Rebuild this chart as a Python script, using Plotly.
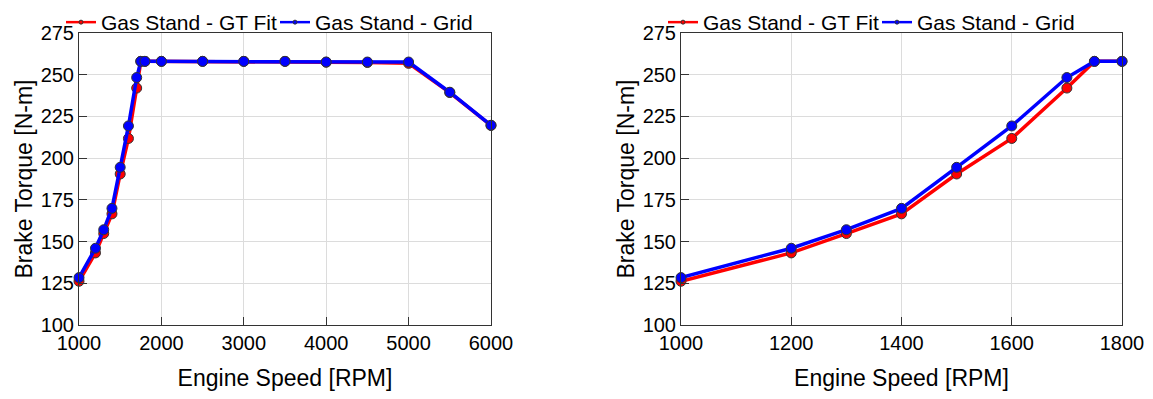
import plotly.graph_objects as go

# engine speed sweep and brake torque for the two gas stand data sets
rpm = [1000, 1200, 1300, 1400, 1500, 1600, 1700, 1750, 1800, 2000,
       2500, 3000, 3500, 4000, 4500, 5000, 5500, 6000]
torque_fit = [126.2, 143.2, 154.8, 166.6, 190.5, 211.8, 242.0, 258.0, 258.0, 258.0,
              258.0, 258.0, 258.0, 257.5, 257.3, 256.8, 239.3, 219.6]
torque_grid = [128.4, 146.0, 157.1, 169.9, 194.5, 219.3, 248.3, 258.0, 258.0, 258.0,
               258.0, 258.0, 258.0, 257.6, 257.6, 257.6, 239.5, 219.7]

y_ticks = [100, 125, 150, 175, 200, 225, 250, 275]
zoom_max = 1800

series = [
    ("Gas Stand - GT Fit", torque_fit, "#ff0000"),
    ("Gas Stand - Grid", torque_grid, "#0000ff"),
]

W, H = 1137, 383

fig = go.Figure()

# full range (left) and low speed zoom (right)
for xa, ya, lg, x_max in [("x", "y", "legend", 6000), ("x2", "y2", "legend2", zoom_max)]:
    for name, vals, color in series:
        xs = [r for r in rpm if r <= x_max]
        ys = vals[:len(xs)]
        fig.add_trace(go.Scatter(
            x=xs, y=ys, mode="lines+markers", xaxis=xa, yaxis=ya,
            line=dict(color=color, width=3.5),
            marker=dict(size=10, color=color, line=dict(color="#333333", width=1)),
            cliponaxis=False, showlegend=False,
        ))
    # small legend-only entries
    for name, vals, color in series:
        fig.add_trace(go.Scatter(
            x=[None], y=[None], mode="lines+markers", name=name, xaxis=xa, yaxis=ya,
            line=dict(color=color, width=2.5),
            marker=dict(size=4, color=color, line=dict(color="#333333", width=1)),
            legend=lg,
        ))

axis_common = dict(
    ticks="inside", ticklen=8, tickcolor="#333333",
    showgrid=True, gridcolor="#dcdcdc", gridwidth=1,
    showline=True, linecolor="#333333", linewidth=1, mirror=True,
    zeroline=False, tickfont=dict(size=20, color="black"), automargin=False,
)
x_title = dict(text="Engine Speed [RPM]", font=dict(size=23, color="black"), standoff=27)
y_title = dict(text="Brake Torque [N-m]", font=dict(size=23, color="black"), standoff=1)

legend_common = dict(
    orientation="h", yanchor="top", y=1.0 + 6 / H, xanchor="left",
    font=dict(size=21, color="black", family="Liberation Sans, Arial"),
    bgcolor="rgba(0,0,0,0)", itemwidth=30, entrywidth=169, tracegroupgap=0,
)

y_dom = [66 / H, 358 / H]

fig.update_layout(
    width=W, height=H,
    margin=dict(l=0, r=0, t=0, b=0, autoexpand=False),
    paper_bgcolor="white", plot_bgcolor="white",
    font=dict(family="Liberation Sans, Arial", color="black"),
    xaxis=dict(domain=[71 / W, 483 / W], range=[1000, 6000], dtick=1000,
               title=x_title, anchor="y", **axis_common),
    yaxis=dict(domain=y_dom, range=[100, 275], tickvals=y_ticks,
               title=y_title, anchor="x", **axis_common),
    xaxis2=dict(domain=[673 / W, 1114 / W], range=[1000, zoom_max], dtick=200,
                title=x_title, anchor="y2", **axis_common),
    yaxis2=dict(domain=y_dom, range=[100, 275], tickvals=y_ticks,
                title=y_title, anchor="x2", **axis_common),
    legend=dict(x=53 / W, **legend_common),
    legend2=dict(x=655 / W, **legend_common),
)

fig.write_html("out.html")
